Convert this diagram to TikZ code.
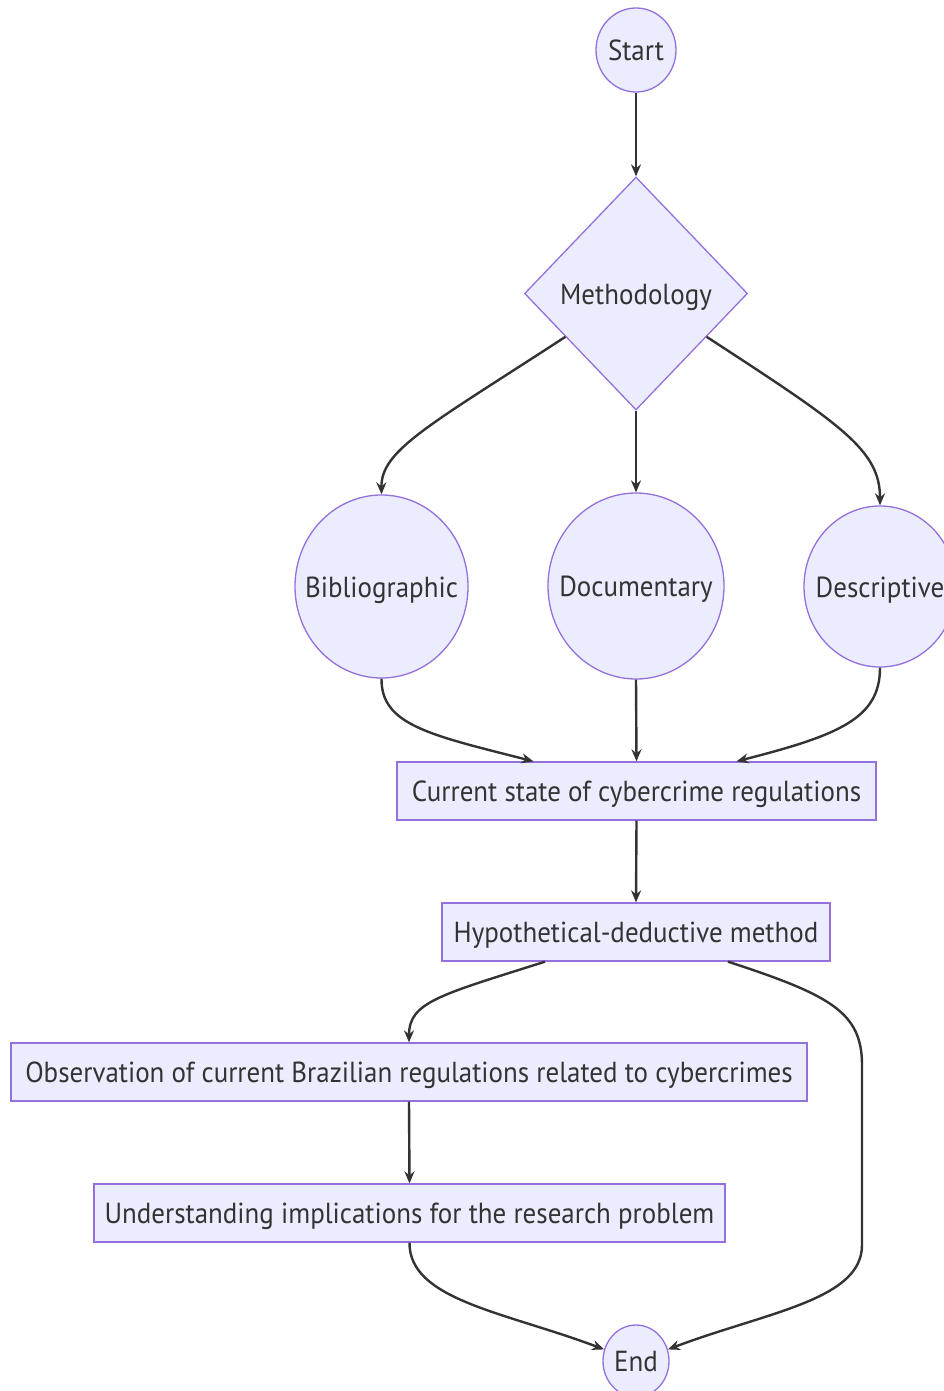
\documentclass[tikz,border=0pt]{standalone}
\usepackage{fontspec}
\setmainfont[FakeStretch=0.93]{PT Sans}
\usetikzlibrary{shapes.geometric,arrows.meta,calc}
\definecolor{nodefill}{HTML}{ECECFF}
\definecolor{nodeline}{HTML}{9370DB}
\definecolor{edgecol}{HTML}{333333}
\begin{document}
\begin{tikzpicture}[x=1pt,y=-1pt,
  base/.style={draw=nodeline, fill=nodefill, line width=1.3pt, text=edgecol, inner sep=0pt, text height=26pt, text depth=5pt, font=\fontsize{29}{32}\selectfont},
  boxnode/.style={base, rectangle, minimum height=58pt},
  roundnode/.style={base, ellipse, inner sep=-40pt},
  decision/.style={base, diamond, minimum width=223pt, minimum height=233pt},
  flow/.style={draw=edgecol, line width=2.4pt, -{Stealth[length=12pt,width=10pt]}}]
\clip (0,0) rectangle (944,1391);
\fill[white] (0,0) rectangle (944,1391);
\node[roundnode, minimum width=80pt, minimum height=84pt] (start) at (636,50) {Start};
\node[decision] (meth) at (636,293.5) {Methodology};
\node[roundnode, minimum width=173pt, minimum height=183pt] (bib) at (381.5,586.5) {Bibliographic};
\node[roundnode, minimum width=176pt, minimum height=186pt] (doc) at (636,586) {Documentary};
\node[roundnode, minimum width=152pt, minimum height=161pt] (desc) at (880,586.5) {Descriptive};
\node[boxnode, minimum width=479pt] (cur) at (636.5,791) {Current state of cybercrime regulations};
\node[boxnode, minimum width=388pt] (hyp) at (636,932) {Hypothetical-deductive method};
\node[boxnode, minimum width=796pt] (obs) at (409,1072) {Observation of current Brazilian regulations related to cybercrimes};
\node[boxnode, minimum width=631pt] (und) at (409.5,1213) {Understanding implications for the research problem};
\node[roundnode, minimum width=66pt, minimum height=72pt] (end) at (636,1361) {End};

\coordinate (mL) at ($(meth.west)!0.37!(meth.south)$);
\coordinate (mR) at ($(meth.east)!0.37!(meth.south)$);
\coordinate (curL) at ($(cur.north)+(-103,0)$);
\coordinate (curR) at ($(cur.north)+(100,0)$);
\coordinate (hypL) at ($(hyp.south)+(-91,0)$);
\coordinate (hypR) at ($(hyp.south)+(92,0)$);

\draw[flow] (start.south) -- (meth.north);
\draw[flow] (mL) .. controls (430,425) and (381,450) .. (bib.north);
\draw[flow] (meth.south) -- (doc.north);
\draw[flow] (mR) .. controls (842,425) and (880,450) .. (desc.north);
\draw[flow] (bib.south) .. controls (381,725) and (430,735) .. (curL);
\draw[flow] (doc.south) -- (cur.north);
\draw[flow] (desc.south) .. controls (880,718) and (840,735) .. (curR);
\draw[flow] (cur.south) -- (hyp.north);
\draw[flow] (hypL) .. controls (440,995) and (409,1002) .. (obs.north);
\draw[flow] (hypR) .. controls (830,995) and (862,1012) .. (862,1065) -- (862,1245) .. controls (862,1300) and (767,1312) .. (end.20);
\draw[flow] (obs.south) -- (und.north);
\draw[flow] (und.south) .. controls (409,1300) and (505,1312) .. (end.160);
\end{tikzpicture}
\end{document}
